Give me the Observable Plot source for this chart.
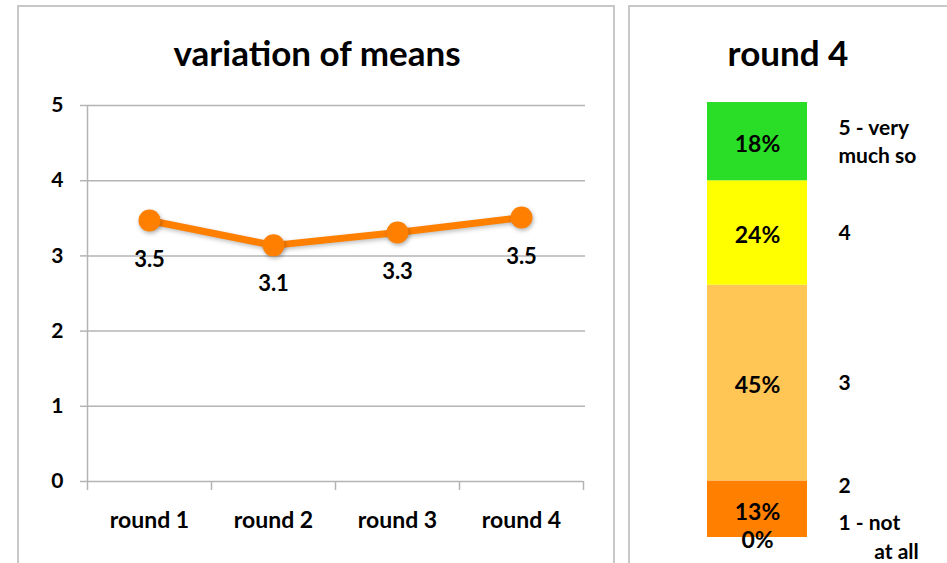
<!DOCTYPE html>
<html><head><meta charset="utf-8">
<script src="https://cdn.jsdelivr.net/npm/d3@7"></script>
<script src="https://cdn.jsdelivr.net/npm/@observablehq/plot@0.6"></script>
<style>
body{margin:0;background:#fff;width:947px;height:563px;overflow:hidden;position:relative;font-family:Lato,sans-serif;}
.box{position:absolute;border:2px solid #c8c8c8;box-sizing:border-box;pointer-events:none;}
.title{position:absolute;font-weight:bold;font-size:35px;color:#000;white-space:nowrap;transform:translate(-50%,-50%);}
#c1{position:absolute;left:0;top:0;}
#c2{position:absolute;left:620px;top:0;}
</style></head><body>
<div id="c1"></div>
<div id="c2"></div>
<div class="box" style="left:17px;top:5px;width:598px;height:580px;"></div>
<div class="box" style="left:628px;top:5px;width:330px;height:580px;"></div>
<div class="title" style="left:317px;top:52px;">variation of means</div>
<div class="title" style="left:788px;top:52px;">round 4</div>
<script>
// Left chart data
const rounds = ["round 1", "round 2", "round 3", "round 4"];
const means = [3.47, 3.14, 3.31, 3.51];
const yTicks = [0, 1, 2, 3, 4, 5];

// Right chart data (round 4 distribution, bottom to top)
const levels = ["1 - not\n\u00a0\u00a0\u00a0\u00a0\u00a0\u00a0\u00a0at all", "2", "3", "4", "5 - very\nmuch so"];
const shares = [0, 13, 45, 24, 18];
const levelColors = ["#FF7F00", "#FF7F00", "#FFC555", "#FFFF00", "#2ADD26"];

const font = {fontFamily: "Lato, sans-serif", fontWeight: "bold", fontSize: "21px", color: "#000", background: "transparent"};
const grid = "#b4b4b4";

const lineData = rounds.map((r, i) => ({i: i + 0.5, name: r, v: means[i]}));

const p1 = Plot.plot({
  width: 620, height: 563,
  marginLeft: 87, marginRight: 37, marginTop: 105, marginBottom: 82,
  style: font,
  x: {domain: [0, rounds.length]},
  y: {domain: [0, 5]},
  marks: [
    Plot.ruleY(yTicks.slice(1), {stroke: grid, strokeWidth: 1.5, insetRight: -2}),
    Plot.ruleY([0], {stroke: grid, strokeWidth: 1.5}),
    Plot.ruleX([0], {y1: 0, y2: 5, stroke: grid, strokeWidth: 1.5}),
    Plot.axisY(yTicks, {label: null, tickSize: 7, tickPadding: 17, tickFormat: d3.format("d"), stroke: grid, strokeWidth: 1.5, fontSize: 21, fontWeight: "bold", fill: "#000"}),
    Plot.axisX(d3.range(rounds.length + 1), {label: null, tickSize: 9, tickFormat: () => "", stroke: grid, strokeWidth: 1.5}),
    Plot.axisX(lineData.map(d => d.i), {label: null, tickSize: 0, tickPadding: 30, tickFormat: d => rounds[Math.floor(d)], fontSize: 23, fontWeight: "bold", fill: "#000"}),
    Plot.line(lineData, {x: "i", y: "v", stroke: "#FF8000", strokeWidth: 7, imageFilter: "drop-shadow(1px 2px 2px rgba(0,0,0,0.25))"}),
    Plot.dot(lineData, {x: "i", y: "v", r: 11, fill: "#FF8000", imageFilter: "drop-shadow(1px 2px 2px rgba(0,0,0,0.3))"}),
    Plot.text(lineData, {x: "i", y: "v", text: d => d.v.toFixed(1), dy: 39, fontSize: 22, fontWeight: "bold", fill: "#000"})
  ]
});
document.getElementById("c1").appendChild(p1);

// stacked segments
const ends = d3.cumsum(shares);
const segs = levels.map((l, k) => ({
  level: l, pct: shares[k], color: levelColors[k],
  y1: ends[k] - shares[k], y2: ends[k], mid: ends[k] - shares[k] / 2
}));

const p2 = Plot.plot({
  width: 327, height: 563,
  marginLeft: 87, marginRight: 140, marginTop: 102, marginBottom: 26,
  style: font,
  x: {domain: [0, 1], axis: null},
  y: {domain: [0, 100], axis: null},
  marks: [
    Plot.rectY(segs, {x1: 0, x2: 1, y1: "y1", y2: "y2", fill: "color"}),
    Plot.text(segs, {x: 0.5, y: "mid", text: d => d.pct + "%", dy: 3, fontSize: 23, fontWeight: "bold", fill: "#000"}),
    Plot.text(segs.filter(d => d.level !== "2"), {x: 1, y: "mid", text: "level", textAnchor: "start", dx: 31,
      dy: -2, lineHeight: 1.35, fontSize: 21, fontWeight: "bold", fill: "#000"}),
    Plot.text(segs.filter(d => d.level === "2"), {x: 1, y: "mid", text: "level", textAnchor: "start", dx: 31,
      dy: -23, fontSize: 21, fontWeight: "bold", fill: "#000"})
  ]
});
document.getElementById("c2").appendChild(p2);
</script>
</body></html>
